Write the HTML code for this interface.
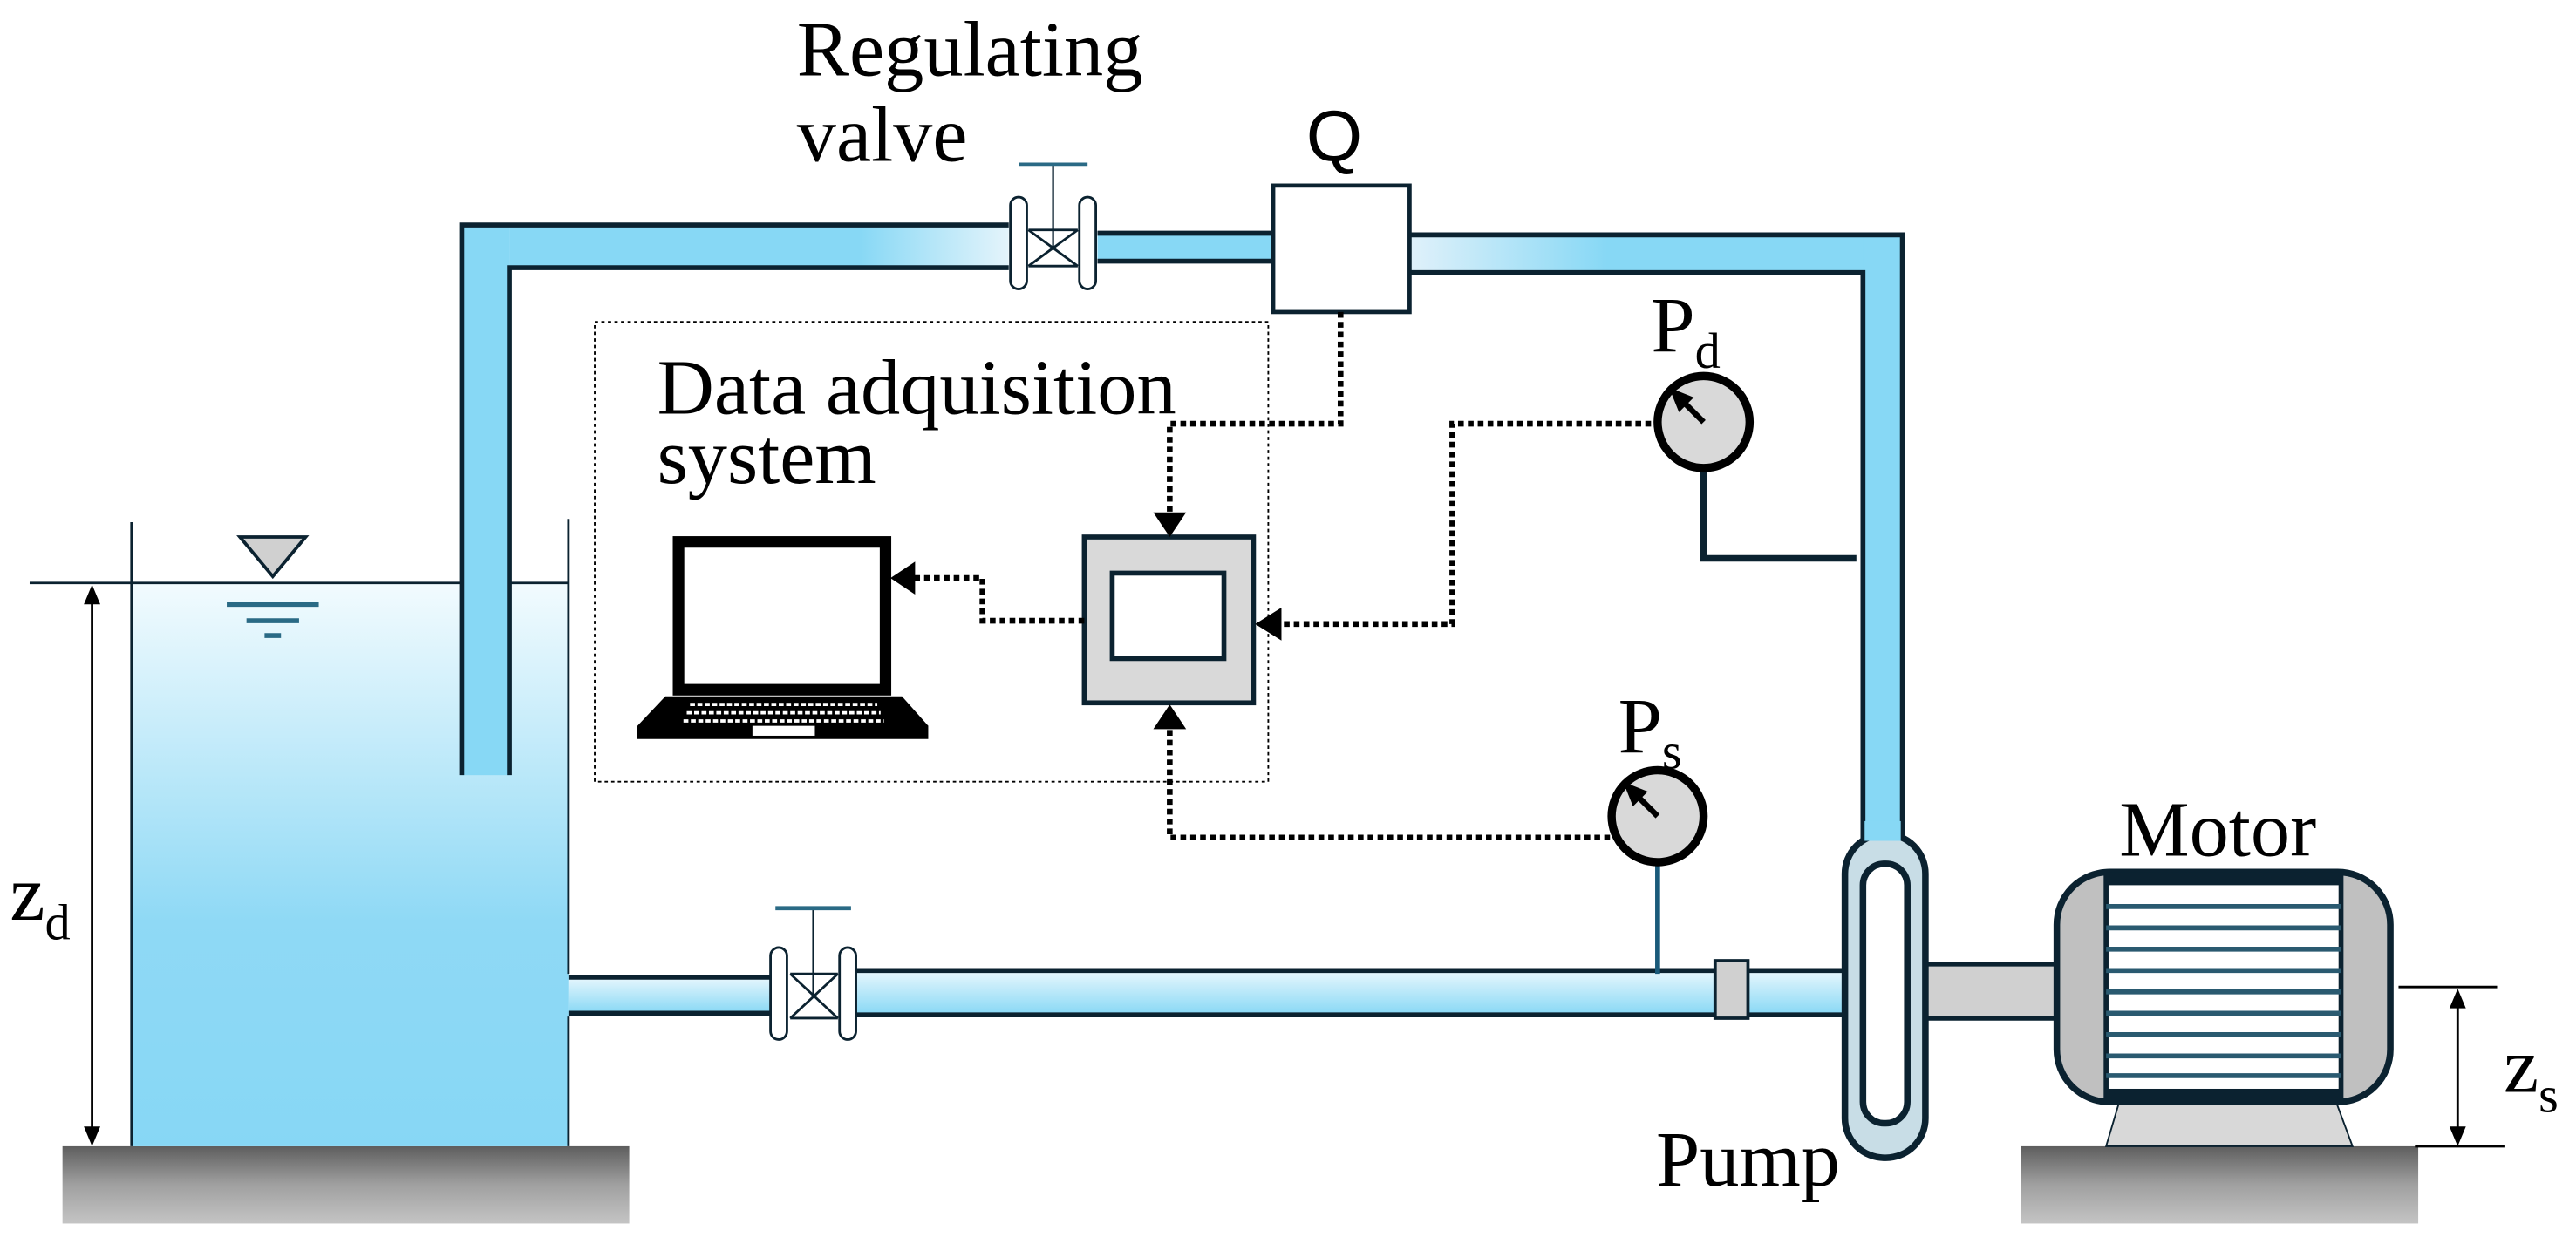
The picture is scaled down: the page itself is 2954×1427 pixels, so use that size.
<!DOCTYPE html>
<html><head><meta charset="utf-8"><style>html,body{margin:0;padding:0;background:#fff}svg{display:block}</style></head>
<body>
<svg width="2954" height="1427" viewBox="0 0 1568 757.5" xmlns="http://www.w3.org/2000/svg" font-family="Liberation Serif, serif">
<defs>
<linearGradient id="water" x1="0" y1="0" x2="0" y2="1"><stop offset="0" stop-color="#f2fbfe"/><stop offset="0.6" stop-color="#8fd9f5"/><stop offset="1" stop-color="#87d7f5"/></linearGradient>
<linearGradient id="ground" x1="0" y1="0" x2="0" y2="1"><stop offset="0" stop-color="#5e5e5e"/><stop offset="0.5" stop-color="#a0a0a0"/><stop offset="1" stop-color="#c4c4c4"/></linearGradient>
<linearGradient id="topL" x1="0" y1="0" x2="1" y2="0"><stop offset="0" stop-color="#87d8f5"/><stop offset="0.7" stop-color="#87d8f5"/><stop offset="1" stop-color="#e4f4fb"/></linearGradient>
<linearGradient id="topR" x1="0" y1="0" x2="1" y2="0"><stop offset="0" stop-color="#e0f1fa"/><stop offset="0.4" stop-color="#87d8f5"/><stop offset="1" stop-color="#87d8f5"/></linearGradient>
<linearGradient id="midP" x1="0" y1="0" x2="0" y2="1"><stop offset="0" stop-color="#e8f7fd"/><stop offset="1" stop-color="#87d8f5"/></linearGradient>
</defs>

<rect x="38" y="698" width="345" height="47" fill="url(#ground)"/>
<rect x="1230" y="698" width="242" height="47" fill="url(#ground)"/>

<rect x="80" y="355" width="266" height="343" fill="url(#water)"/>
<line x1="80" y1="318" x2="80" y2="698" stroke="#0b2230" stroke-width="1.5"/>
<line x1="346" y1="316" x2="346" y2="593" stroke="#0b2230" stroke-width="1.5"/>
<line x1="346" y1="619" x2="346" y2="698" stroke="#0b2230" stroke-width="1.5"/>
<line x1="18" y1="355" x2="346" y2="355" stroke="#0b2230" stroke-width="1.5"/>
<path d="M146,327 L186,327 L166,351z" fill="#d0d0d0" stroke="#0b2230" stroke-width="2"/>
<line x1="138" y1="368" x2="194" y2="368" stroke="#2a6a85" stroke-width="3"/>
<line x1="150" y1="378" x2="182" y2="378" stroke="#2a6a85" stroke-width="3"/>
<line x1="161" y1="387" x2="171" y2="387" stroke="#2a6a85" stroke-width="3"/>

<line x1="56" y1="362" x2="56" y2="690" stroke="#000" stroke-width="1.5"/>
<path d="M51,368 L56,356 L61,368z" fill="#000"/>
<path d="M51,686 L56,698 L61,686z" fill="#000"/>
<text x="6" y="560" font-size="48">z<tspan font-size="31" dy="12">d</tspan></text>

<rect x="281" y="137" width="29" height="335" fill="#87d8f5"/>
<rect x="310" y="137" width="304" height="26" fill="url(#topL)"/>
<polyline points="281,472 281,137 614,137" fill="none" stroke="#0b2230" stroke-width="3"/>
<polyline points="310,472 310,163 614,163" fill="none" stroke="#0b2230" stroke-width="3"/>
<rect x="668" y="142" width="107" height="17" fill="#87d8f5"/>
<line x1="668" y1="142" x2="775" y2="142" stroke="#0b2230" stroke-width="3"/>
<line x1="668" y1="159" x2="775" y2="159" stroke="#0b2230" stroke-width="3"/>
<rect x="858" y="143" width="300" height="23" fill="url(#topR)"/>
<rect x="1134" y="143" width="24" height="370" fill="#87d8f5"/>
<polyline points="858,143 1158,143 1158,513" fill="none" stroke="#0b2230" stroke-width="3"/>
<polyline points="858,166 1134,166 1134,513" fill="none" stroke="#0b2230" stroke-width="3"/>

<rect x="614" y="142" width="54" height="18" fill="#fff"/>
<path d="M626,140 L656,162 M626,162 L656,140" stroke="#0b2230" stroke-width="1.5"/>
<line x1="626" y1="140" x2="656" y2="140" stroke="#0b2230" stroke-width="1.5"/>
<line x1="626" y1="162" x2="656" y2="162" stroke="#0b2230" stroke-width="1.5"/>
<rect x="615" y="120" width="10" height="56" rx="5" fill="#fff" stroke="#0b2230" stroke-width="1.5"/>
<rect x="657" y="120" width="10" height="56" rx="5" fill="#fff" stroke="#0b2230" stroke-width="1.5"/>
<line x1="641" y1="100" x2="641" y2="151" stroke="#0b2230" stroke-width="1.2"/>
<line x1="620" y1="100" x2="662" y2="100" stroke="#2a6a85" stroke-width="2"/>
<text x="485" y="46" font-size="48">Regulating</text>
<text x="485" y="98" font-size="48">valve</text>

<rect x="775" y="113" width="83" height="77" fill="#fff" stroke="#0b2230" stroke-width="2.5"/>
<text x="795" y="98" font-size="44" font-family="Liberation Sans, sans-serif">Q</text>

<rect x="362" y="196" width="410" height="280" fill="none" stroke="#000" stroke-width="1" stroke-dasharray="2,2"/>
<text x="400" y="252" font-size="48">Data adquisition</text>
<text x="400" y="294" font-size="48">system</text>
<rect x="660" y="327" width="103" height="101" fill="#d9d9d9" stroke="#0b2230" stroke-width="3"/>
<rect x="677" y="349" width="68" height="52" fill="#fff" stroke="#0b2230" stroke-width="3"/>

<rect x="413" y="330" width="126" height="90" fill="#fff" stroke="#000" stroke-width="7"/>
<path d="M405,424 L549,424 L565,442 L565,450 L388,450 L388,442z" fill="#000"/>
<g stroke="#fff" stroke-width="2" stroke-dasharray="3,1.5">
<line x1="420" y1="429" x2="534" y2="429"/><line x1="418" y1="434" x2="536" y2="434"/><line x1="416" y1="439" x2="538" y2="439"/>
</g>
<rect x="458" y="442" width="38" height="6" fill="#fff"/>

<g fill="none" stroke="#000" stroke-width="3.5" stroke-dasharray="3.5,2.5">
<polyline points="816,190 816,258 712,258 712,312"/>
<polyline points="1005,258 884,258 884,380 780,380"/>
<polyline points="660,378 598,378 598,352 556,352"/>
<polyline points="980,510 712,510 712,444"/>
</g>
<path d="M702,312 L722,312 L712,327z" fill="#000"/>
<path d="M780,370 L780,390 L764,380z" fill="#000"/>
<path d="M557,342 L557,362 L542,352z" fill="#000"/>
<path d="M702,444 L722,444 L712,429z" fill="#000"/>

<polyline points="1037,285 1037,340 1130,340" fill="none" stroke="#0b2230" stroke-width="4"/>
<circle cx="1037" cy="257" r="28" fill="#d9d9d9" stroke="#000" stroke-width="5"/>
<line x1="1037" y1="257" x2="1024" y2="244" stroke="#000" stroke-width="3.5"/>
<path d="M1016,236 L1031,242 L1022,251z" fill="#000"/>
<text x="1005" y="214" font-size="48">P<tspan font-size="31" dy="10">d</tspan></text>

<rect x="346" y="595" width="125" height="22" fill="url(#midP)"/>
<rect x="520" y="591" width="602" height="27" fill="url(#midP)"/>
<line x1="346" y1="595" x2="471" y2="595" stroke="#0b2230" stroke-width="3"/>
<line x1="346" y1="617" x2="471" y2="617" stroke="#0b2230" stroke-width="3"/>
<line x1="520" y1="591" x2="1122" y2="591" stroke="#0b2230" stroke-width="3"/>
<line x1="520" y1="618" x2="1122" y2="618" stroke="#0b2230" stroke-width="3"/>
<rect x="471" y="595" width="49" height="22" fill="#fff"/>
<path d="M481,593 L510,620 M481,620 L510,593" stroke="#0b2230" stroke-width="1.5"/>
<line x1="481" y1="593" x2="510" y2="593" stroke="#0b2230" stroke-width="1.5"/>
<line x1="481" y1="620" x2="510" y2="620" stroke="#0b2230" stroke-width="1.5"/>
<rect x="469" y="577" width="10" height="56" rx="5" fill="#fff" stroke="#0b2230" stroke-width="1.5"/>
<rect x="511" y="577" width="10" height="56" rx="5" fill="#fff" stroke="#0b2230" stroke-width="1.5"/>
<line x1="495" y1="553" x2="495" y2="606" stroke="#0b2230" stroke-width="1.2"/>
<line x1="472" y1="553" x2="518" y2="553" stroke="#2a6a85" stroke-width="2.5"/>
<rect x="1044" y="585" width="20" height="35" fill="#d0d0d0" stroke="#0b2230" stroke-width="2"/>

<line x1="1009" y1="525" x2="1009" y2="593" stroke="#1a5a7a" stroke-width="3"/>
<circle cx="1009" cy="497" r="28" fill="#d9d9d9" stroke="#000" stroke-width="5"/>
<line x1="1009" y1="497" x2="996" y2="484" stroke="#000" stroke-width="3.5"/>
<path d="M988,476 L1003,482 L994,491z" fill="#000"/>
<text x="985" y="458" font-size="48">P<tspan font-size="31" dy="10">s</tspan></text>

<rect x="1172" y="587" width="80" height="33" fill="#d0d0d0"/>
<line x1="1172" y1="587" x2="1252" y2="587" stroke="#0b2230" stroke-width="3"/>
<line x1="1172" y1="620" x2="1252" y2="620" stroke="#0b2230" stroke-width="3"/>

<rect x="1123" y="508" width="49" height="197" rx="24" fill="#c8dde6" stroke="#0b2230" stroke-width="4"/>
<rect x="1134" y="526" width="27" height="158" rx="13" fill="#fff" stroke="#0b2230" stroke-width="4"/>
<rect x="1135" y="500" width="22" height="12" fill="#87d8f5"/>
<text x="1008" y="722" font-size="48">Pump</text>

<path d="M1290,671 L1422,671 L1432,698 L1282,698z" fill="#d8d8d8" stroke="#0b2230" stroke-width="1"/>
<rect x="1252" y="531" width="203" height="140" rx="32" fill="#c0c0c0" stroke="#0b2230" stroke-width="4"/>
<rect x="1282" y="531" width="143" height="140" fill="#fff" stroke="#0b2230" stroke-width="3"/>
<rect x="1282" y="531" width="143" height="8" fill="#0b2230"/>
<rect x="1282" y="663" width="143" height="8" fill="#0b2230"/>
<g stroke="#2a5a70" stroke-width="3">
<line x1="1282" y1="552" x2="1425" y2="552"/><line x1="1282" y1="565" x2="1425" y2="565"/><line x1="1282" y1="578" x2="1425" y2="578"/><line x1="1282" y1="591" x2="1425" y2="591"/><line x1="1282" y1="604" x2="1425" y2="604"/><line x1="1282" y1="617" x2="1425" y2="617"/><line x1="1282" y1="630" x2="1425" y2="630"/><line x1="1282" y1="643" x2="1425" y2="643"/><line x1="1282" y1="655" x2="1425" y2="655"/>
</g>
<text x="1290" y="521" font-size="48">Motor</text>

<line x1="1460" y1="601" x2="1520" y2="601" stroke="#000" stroke-width="1.5"/>
<line x1="1470" y1="698" x2="1525" y2="698" stroke="#000" stroke-width="1.5"/>
<line x1="1496" y1="612" x2="1496" y2="688" stroke="#000" stroke-width="1.5"/>
<path d="M1491,614 L1496,602 L1501,614z" fill="#000"/>
<path d="M1491,686 L1496,698 L1501,686z" fill="#000"/>
<text x="1524" y="665" font-size="48">z<tspan font-size="31" dy="12">s</tspan></text>
</svg>
</body></html>
